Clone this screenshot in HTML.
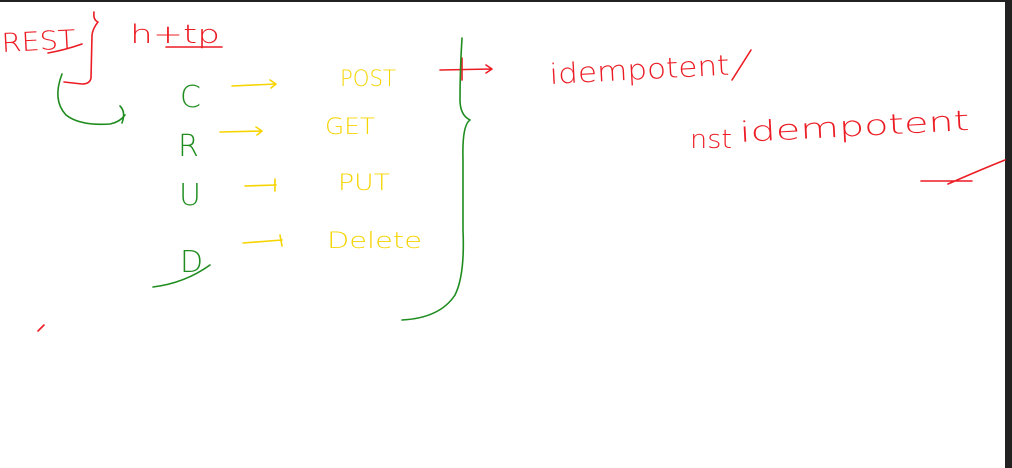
<!DOCTYPE html>
<html><head><style>
html,body{margin:0;padding:0;background:#fff;}
body{width:1012px;height:468px;overflow:hidden;position:relative;}
svg{position:absolute;left:0;top:0;}
text{font-family:"DejaVu Sans","Liberation Sans",sans-serif;font-weight:200;}
</style></head><body>
<svg width="1012" height="468" viewBox="0 0 1012 468">
<rect x="0" y="0" width="1012" height="2" fill="#222"/>
<rect x="1005" y="0" width="7" height="468" fill="#222"/>
<g fill="none" stroke-linecap="round" stroke-linejoin="round">
<g stroke="#ec1c24" stroke-width="1.6">
<path d="M48 53 Q65 50 82 44"/>
<path d="M94 12 Q93 20 98 22 Q93 28 92 35 L91 78 Q90 84 82 84 L64 82"/>
<path d="M166 47 L222 47"/>
<path d="M440 70 L492 69 M486 65 L492 69 L486 73"/>
<path d="M462 58 L462 80"/>
<path d="M732 80 L751 50"/>
<path d="M921 181 L972 181 M948 184 Q980 170 1005 160"/>
<path d="M38 331 L44 325"/>
</g>
<g fill="#ec1c24" font-size="26" stroke="none">
<text x="2" y="52" transform="rotate(-3 2 52)" textLength="74" lengthAdjust="spacingAndGlyphs">REST</text>
<text x="130" y="43" textLength="90" lengthAdjust="spacingAndGlyphs">h+tp</text>
<text x="550" y="84" font-size="28" textLength="180" lengthAdjust="spacingAndGlyphs" transform="rotate(-3 550 84)">idempotent</text>
<text x="690" y="148" font-size="26" textLength="42" lengthAdjust="spacingAndGlyphs">nst</text>
<text x="740" y="142" font-size="28" textLength="230" lengthAdjust="spacingAndGlyphs" transform="rotate(-3 740 142)">idempotent</text>
</g>
<g stroke="#1e8c1e" stroke-width="1.6">
<path d="M62 74 Q52 100 66 115 Q80 126 110 124 Q120 122 125 115 M120 106 Q126 112 122 123"/>
<path d="M153 287 Q185 283 210 265"/>
<path d="M462 38 Q460 70 460 100 Q460 115 470 120 Q462 125 463 160 L463 230 Q465 275 455 295 Q440 318 402 320"/>
</g>
<g fill="#1e8c1e" font-size="30" stroke="none">
<text x="180" y="107">C</text>
<text x="178" y="156">R</text>
<text x="179" y="205">U</text>
<text x="180" y="272">D</text>
</g>
<g stroke="#f5d400" stroke-width="1.6">
<path d="M232 86 L276 84 M270 80 L276 84 L271 88"/>
<path d="M220 132 L262 131 M256 127 L262 131 L257 135"/>
<path d="M245 186 L276 185 M275 179 L275 191"/>
<path d="M243 243 L282 240 M280 235 L282 246"/>
</g>
<g fill="#f5d400" font-size="22" stroke="none">
<text x="340" y="86" textLength="56" lengthAdjust="spacingAndGlyphs">POST</text>
<text x="325" y="134" textLength="50" lengthAdjust="spacingAndGlyphs">GET</text>
<text x="338" y="190" textLength="52" lengthAdjust="spacingAndGlyphs">PUT</text>
<text x="327" y="248" textLength="95" lengthAdjust="spacingAndGlyphs">Delete</text>
</g>
</g>
</svg>
</body></html>
